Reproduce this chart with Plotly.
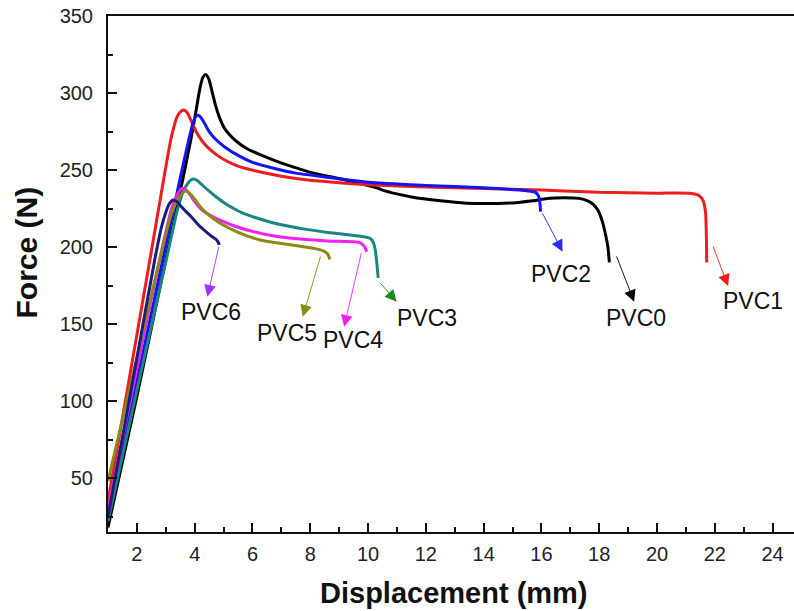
import plotly.graph_objects as go

# Force–displacement curves (displacement in mm, force in N)
pvc0_x = [1.0, 2.0, 3.0, 3.6, 3.9, 4.06, 4.18, 4.28, 4.38, 4.49, 4.6, 4.72, 4.86, 5.02, 5.2, 5.45,
          5.8, 6.2, 6.8, 7.4, 8.0, 9.0, 10.0, 10.3, 10.5, 11.0, 11.5, 12.5, 13.4, 14.5, 15.2,
          15.7, 16.2, 16.8, 17.3, 17.6, 17.8, 17.95, 18.1, 18.22, 18.3, 18.35]
pvc0_y = [18, 103, 192, 245, 273, 290, 303, 310, 312, 309, 301, 292, 284, 277.5, 273, 268.5,
          264, 260.5, 256, 252, 248.5, 244.5, 240, 238.5, 237, 234.5, 232.5, 230, 228.5, 228.3, 229,
          230, 231.5, 232, 231.6, 230, 227.5, 224, 217, 208, 200, 190]

pvc1_x = [1.0, 2.48, 3.0, 3.2, 3.4, 3.55, 3.63, 3.75, 3.9, 4.05, 4.25, 4.46, 4.75, 5.04, 5.5,
          6.2, 7.0, 7.92, 9.0, 10.0, 12.0, 14.0, 16.0, 18.0, 20.0, 21.2, 21.45, 21.6, 21.68,
          21.71, 21.72]
pvc1_y = [35, 195, 252, 272, 285, 288.5, 289, 287, 281, 275, 269, 264.5, 260, 256.5, 252.5,
          249, 246, 243.5, 241.8, 240.5, 239, 238, 237, 235.5, 235, 234.8, 233.5, 230, 222,
          205, 190]

pvc2_x = [1.0, 2.0, 2.9, 3.4, 3.63, 3.8, 3.95, 4.05, 4.12, 4.22, 4.35, 4.5, 4.75, 5.04, 5.5,
          6.0, 6.77, 7.5, 8.5, 10.0, 12.0, 14.0, 15.5, 15.8, 15.9, 15.95, 15.97]
pvc2_y = [25, 113, 192, 236, 256, 270, 281, 285, 285.5, 284, 280, 275, 269.5, 265, 259.5,
          255, 251, 248, 245.5, 242, 240, 238.5, 236.5, 235.5, 233, 228, 223]

pvc3_x = [1.0, 2.0, 3.02, 3.4, 3.6, 3.75, 3.88, 3.98, 4.1, 4.25, 4.46, 4.75, 5.04, 5.35, 5.61,
          6.2, 6.77, 7.4, 7.92, 8.6, 9.3, 9.9, 10.08, 10.18, 10.25, 10.3, 10.35]
pvc3_y = [22, 107, 192, 224, 236, 241, 243.7, 244.1, 243, 240.5, 237, 232.5, 228.4, 225, 222.5,
          218.5, 215.4, 213, 211.3, 209.5, 208, 206.5, 205.5, 203, 198, 190, 180]

pvc4_x = [1.0, 2.0, 2.79, 3.2, 3.4, 3.52, 3.6, 3.7, 3.82, 4.0, 4.2, 4.5, 4.88, 5.4, 6.03, 6.8,
          7.76, 8.6, 9.49, 9.7, 9.82, 9.9, 9.95]
pvc4_y = [30, 121, 192, 225, 234, 237.5, 238.1, 237.3, 234.5, 229.5, 225, 221, 217.5, 213.5,
          210, 207, 205, 204, 203.5, 203, 201.5, 199.5, 197]

pvc5_x = [1.0, 2.0, 2.79, 3.2, 3.45, 3.6, 3.71, 3.82, 4.0, 4.2, 4.5, 4.88, 5.5, 6.26, 7.0,
          7.76, 8.2, 8.45, 8.6, 8.68]
pvc5_y = [48, 128, 192, 222, 232, 235.5, 236.3, 235, 231, 226, 220.5, 215.4, 209.5, 204.6,
          202.3, 200.2, 198.8, 197.5, 195.5, 192]

pvc6_x = [1.0, 2.0, 2.62, 2.85, 3.0, 3.12, 3.25, 3.38, 3.55, 3.7, 3.88, 4.15, 4.46, 4.62,
          4.74, 4.8, 4.84, 4.85]
pvc6_y = [25, 128, 192, 213, 222.5, 228, 230.5, 229.5, 226, 223, 219.7, 214, 208.9, 206.5,
          205, 203.5, 202, 201.3]

series_names = ["PVC0", "PVC1", "PVC2", "PVC3", "PVC4", "PVC5", "PVC6"]
series_x = [pvc0_x, pvc1_x, pvc2_x, pvc3_x, pvc4_x, pvc5_x, pvc6_x]
series_y = [pvc0_y, pvc1_y, pvc2_y, pvc3_y, pvc4_y, pvc5_y, pvc6_y]
line_colors = ["#000000", "#ee1c1c", "#1414f0", "#1a8585", "#f020f0", "#8a8a14", "#1c1c80"]

# Callout arrows: tail (near curve end) -> head (near label), and label positions
arrow_tail_x = [18.58, 21.92, 16.01, 10.38, 9.78, 8.37, 4.85]
arrow_tail_y = [194.8, 201.3, 222.9, 177.5, 197.0, 194.8, 201.3]
arrow_head_x = [19.21, 22.46, 16.73, 10.99, 9.17, 7.74, 4.44]
arrow_head_y = [164.5, 174.7, 197.0, 164.5, 148.3, 154.8, 167.8]
arrow_colors = ["#000000", "#ee1c1c", "#2a2af0", "#1a8a1a", "#f020f0", "#8a8a14", "#9933ff"]
label_x = [19.27, 23.32, 16.67, 12.04, 9.48, 7.19, 4.56]
label_y = [154.0, 165.0, 182.5, 154.0, 139.7, 144.2, 157.9]

x_ticks = [2, 4, 6, 8, 10, 12, 14, 16, 18, 20, 22, 24]
y_ticks = [50, 100, 150, 200, 250, 300, 350]

# Plot-area geometry in pixels (used to place the axis titles)
page_w, page_h = 794, 611
m_left, m_right, m_top, m_bottom = 108, 0, 16, 79
area_w = page_w - m_left - m_right
area_h = page_h - m_top - m_bottom


def to_paper(px, py):
    return (px - m_left) / area_w, (page_h - m_bottom - py) / area_h


fig = go.Figure()
for name, xs, ys, c in zip(series_names, series_x, series_y, line_colors):
    fig.add_trace(go.Scatter(x=xs, y=ys, mode="lines", name=name,
                             line=dict(color=c, width=3, shape="spline", smoothing=0.6)))

annotations = []
for i, name in enumerate(series_names):
    annotations.append(dict(
        x=arrow_head_x[i], y=arrow_head_y[i], xref="x", yref="y",
        ax=arrow_tail_x[i], ay=arrow_tail_y[i], axref="x", ayref="y",
        text="", showarrow=True, arrowhead=2, arrowsize=2.6, arrowwidth=0.9,
        arrowcolor=arrow_colors[i], standoff=0, startstandoff=0))
    annotations.append(dict(
        x=label_x[i], y=label_y[i], xref="x", yref="y", text=name, showarrow=False,
        xanchor="center", yanchor="middle",
        font=dict(family="Liberation Sans, Arial", size=23, color="#111111")))

tx, ty = to_paper(454.5, 593)
annotations.append(dict(
    x=tx, y=ty, xref="paper", yref="paper",
    text="<b>Displacement (mm)</b>", showarrow=False, xanchor="center", yanchor="middle",
    font=dict(family="Liberation Sans, Arial", size=29, color="#111111")))
tx, ty = to_paper(26, 252.5)
annotations.append(dict(
    x=tx, y=ty, xref="paper", yref="paper",
    text="<b>Force (N)</b>", showarrow=False, textangle=-90, xanchor="center", yanchor="middle",
    font=dict(family="Liberation Sans, Arial", size=30, color="#111111")))

fig.update_layout(
    width=page_w, height=page_h,
    margin=dict(l=m_left, r=m_right, t=m_top, b=m_bottom),
    paper_bgcolor="white", plot_bgcolor="white",
    showlegend=False,
    annotations=annotations,
    xaxis=dict(range=[1, 24.74], tickvals=x_ticks, ticks="inside", ticklen=9, tickwidth=1.5,
               tickcolor="#111111", showline=True, linecolor="#111111", linewidth=2, mirror=True,
               showgrid=False, zeroline=False, ticklabelstandoff=3,
               minor=dict(dtick=1, tick0=1, ticks="inside", ticklen=5, tickwidth=1.5,
                          tickcolor="#111111", showgrid=False),
               tickfont=dict(family="Liberation Sans, Arial", size=20, color="#222222")),
    yaxis=dict(range=[15, 350], tickvals=y_ticks, ticks="inside", ticklen=9, tickwidth=1.5,
               tickcolor="#111111", showline=True, linecolor="#111111", linewidth=2, mirror=False,
               showgrid=False, zeroline=False, ticklabelstandoff=9,
               minor=dict(dtick=25, tick0=0, ticks="inside", ticklen=5, tickwidth=1.5,
                          tickcolor="#111111", showgrid=False),
               tickfont=dict(family="Liberation Sans, Arial", size=20, color="#222222")),
)

fig.write_html("out.html")
